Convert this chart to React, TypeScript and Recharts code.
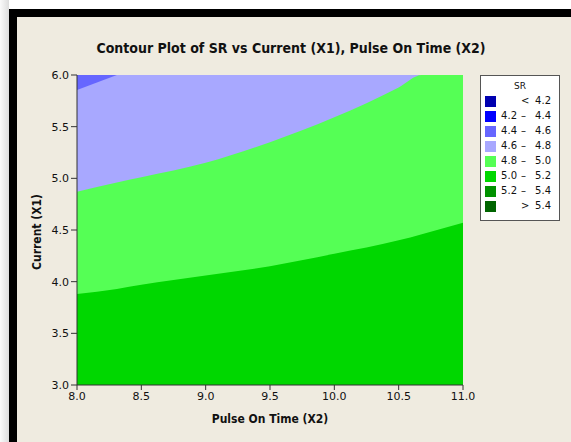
import React from 'react';
import { ComposedChart, Area, XAxis, YAxis, CartesianGrid } from 'recharts';

// contour edges, Current (X1) at each Pulse On Time (X2)
const pulseOnTime = [8.0, 8.31, 8.5, 9.0, 9.5, 10.0, 10.5, 10.68, 11.0];
const edge48to50 = [4.87, 4.96, 5.01, 5.15, 5.35, 5.59, 5.88, 6.0, 6.0];
const edge50to52 = [3.88, 3.93, 3.97, 4.06, 4.15, 4.27, 4.4, 4.46, 4.57];
const edge44to46 = [5.855, 6.0, null, null, null, null, null, null, null];

const xTicks = [8.0, 8.5, 9.0, 9.5, 10.0, 10.5, 11.0];
const yTicks = [3.0, 3.5, 4.0, 4.5, 5.0, 5.5, 6.0];

const legendLow = ['', '4.2', '4.4', '4.6', '4.8', '5.0', '5.2', ''];
const legendMid = ['<', '\u2013', '\u2013', '\u2013', '\u2013', '\u2013', '\u2013', '>'];
const legendHigh = ['4.2', '4.4', '4.6', '4.8', '5.0', '5.2', '5.4', '5.4'];
const legendColors = ['#0000B0', '#0000FF', '#6666FF', '#A8A8FF', '#55FF55', '#00D700', '#009100', '#006400'];

const data = pulseOnTime.map((x, i) => ({
  x,
  green: edge48to50[i],
  dark: edge50to52[i],
  corner: edge44to46[i] == null ? null : [edge44to46[i], 6.0],
}));

const font = '"DejaVu Sans", sans-serif';
const tickStyle = { fill: '#111', fontSize: 11, fontFamily: font };
const axisColor = '#333';

export default function App() {
  return (
    <div style={{ position: 'absolute', left: 0, top: 0, width: 571, height: 442, background: '#EFEBE0', overflow: 'hidden' }}>
      {/* window frame */}
      <div style={{ position: 'absolute', left: 0, top: 0, width: 571, height: 9, background: '#fff' }} />
      <div style={{ position: 'absolute', left: 0, top: 0, width: 9, height: 442, background: 'linear-gradient(to right, #fafafa, #dcdcdc)' }} />
      <div style={{ position: 'absolute', left: 9, top: 9, width: 562, height: 8, background: '#000' }} />
      <div style={{ position: 'absolute', left: 9, top: 9, width: 8, height: 433, background: '#000' }} />

      <div style={{ position: 'absolute', left: 0, top: 0 }}>
        <ComposedChart width={571} height={442} data={data} margin={{ top: 75, right: 108, bottom: 27, left: 37 }}>
          <CartesianGrid horizontal={false} vertical={false} fill="#A8A8FF" />
          <XAxis
            type="number"
            dataKey="x"
            domain={[8, 11]}
            ticks={xTicks}
            tickFormatter={(v: number) => v.toFixed(1)}
            height={30}
            tick={tickStyle}
            tickSize={5}
            axisLine={{ stroke: axisColor }}
            tickLine={{ stroke: axisColor }}
            allowDataOverflow
          />
          <XAxis xAxisId="top" orientation="top" type="number" domain={[8, 11]} height={0} tick={false} tickLine={false} axisLine={{ stroke: axisColor }} />
          <YAxis
            type="number"
            domain={[3, 6]}
            ticks={yTicks}
            tickFormatter={(v: number) => v.toFixed(1)}
            width={40}
            tick={tickStyle}
            tickSize={6}
            axisLine={{ stroke: axisColor }}
            tickLine={{ stroke: axisColor }}
            allowDataOverflow
          />
          <YAxis yAxisId="right" orientation="right" type="number" domain={[3, 6]} width={0} tick={false} tickLine={false} axisLine={{ stroke: axisColor }} />
          <Area dataKey="green" type="monotone" baseValue={3} fill="#55FF55" fillOpacity={1} stroke="none" isAnimationActive={false} dot={false} activeDot={false} />
          <Area dataKey="dark" type="monotone" baseValue={3} fill="#00D700" fillOpacity={1} stroke="none" isAnimationActive={false} dot={false} activeDot={false} />
          <Area dataKey="corner" type="linear" fill="#6666FF" fillOpacity={1} stroke="none" isAnimationActive={false} dot={false} activeDot={false} />
        </ComposedChart>
      </div>

      <svg width={571} height={442} style={{ position: 'absolute', left: 0, top: 0, pointerEvents: 'none' }}>
        <text x={291} y={53} textAnchor="middle" fontFamily='"DejaVu Sans Condensed", sans-serif' fontWeight="bold" fontSize={14} fill="#111">
          Contour Plot of SR vs Current (X1), Pulse On Time (X2)
        </text>
        <text x={270} y={423} textAnchor="middle" fontFamily='"DejaVu Sans Condensed", sans-serif' fontWeight="bold" fontSize={12} fill="#111">
          Pulse On Time (X2)
        </text>
        <text x={41} y={232} transform="rotate(-90 41 232)" textAnchor="middle" fontFamily='"DejaVu Sans Condensed", sans-serif' fontWeight="bold" fontSize={12} fill="#111">
          Current (X1)
        </text>
      </svg>

      <div style={{ position: 'absolute', left: 480, top: 75, width: 78, height: 144, background: '#fff', border: '1px solid #555', fontFamily: font, fontSize: 10, color: '#111' }}>
        <div style={{ position: 'absolute', left: 0, top: 5, width: 78, textAlign: 'center', fontSize: 9 }}>SR</div>
        {legendColors.map((c, i) => (
          <div key={i} style={{ position: 'absolute', left: 0, top: 20 + i * 15, width: 78, height: 11 }}>
            <div style={{ position: 'absolute', left: 4, top: 0, width: 11, height: 11, background: c }} />
            <span style={{ position: 'absolute', right: 42, top: -1, lineHeight: '12px' }}>{legendLow[i]}</span>
            <span style={{ position: 'absolute', left: 40, top: -1, lineHeight: '12px' }}>{legendMid[i]}</span>
            <span style={{ position: 'absolute', right: 8, top: -1, lineHeight: '12px' }}>{legendHigh[i]}</span>
          </div>
        ))}
      </div>
    </div>
  );
}
